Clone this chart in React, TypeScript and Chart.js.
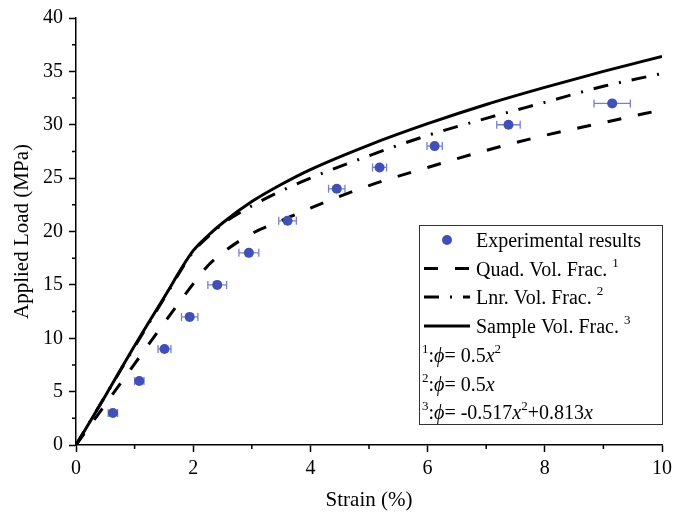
import { useEffect, useRef } from 'react';
import { Chart, registerables } from 'chart.js';

Chart.register(...registerables);

// ---- data ----
const curveStrain = [0, 0.5, 1, 1.5, 2, 2.25, 2.5, 3, 3.5, 4, 5, 6, 7, 8, 9, 10];
const quadLoad = [0, 3.8, 7.6, 11.4, 15.1, 16.8, 18.0, 19.8, 21.0, 22.2, 24.3, 26.0, 27.6, 29.0, 30.2, 31.4];
const linearLoad = [0, 4.6, 9.2, 13.7, 18.1, 19.5, 20.7, 22.4, 23.8, 25.0, 27.1, 29.0, 30.6, 32.1, 33.6, 34.8];
const sampleLoad = [0, 4.6, 9.3, 13.8, 18.2, 19.6, 20.8, 22.8, 24.4, 25.8, 28.1, 30.1, 31.9, 33.5, 35.0, 36.4];

const expStrain = [0.63, 1.08, 1.51, 1.94, 2.41, 2.95, 3.61, 4.45, 5.18, 6.12, 7.38, 9.15];
const expLoad = [3, 6, 9, 12, 15, 18, 21, 24, 26, 28, 30, 32];
const expStrainErr = [0.08, 0.08, 0.11, 0.14, 0.16, 0.17, 0.15, 0.14, 0.12, 0.13, 0.2, 0.31];

const xTickLabels = ['0', '2', '4', '6', '8', '10'];
const yTickLabels = ['0', '5', '10', '15', '20', '25', '30', '35', '40'];
const xMinorTicks = [1, 3, 5, 7, 9];
const yMinorTicks = [2.5, 7.5, 12.5, 17.5, 22.5, 27.5, 32.5, 37.5];

const seriesLabels = ['Experimental results', 'Quad. Vol. Frac.', 'Lnr. Vol. Frac.', 'Sample Vol. Frac.'];
const seriesNotes = ['', '1', '2', '3'];

const FONT = '"Liberation Serif", "Times New Roman", serif';
const PT_COLOR = '#4150b6';
const ERR_COLOR = '#7880cc';
const DASH_QUAD = [14, 17];
const DASH_LNR = [15, 11, 2, 11];

type Part = { t: string; italic?: boolean; sup?: boolean };

function drawRich(ctx: CanvasRenderingContext2D, x: number, baseline: number, parts: Part[]) {
  let cx = x;
  for (const p of parts) {
    const size = p.sup ? 13 : 20;
    ctx.font = `${p.italic ? 'italic ' : ''}${size}px ${FONT}`;
    ctx.fillText(p.t, cx, p.sup ? baseline - 9 : baseline);
    cx += ctx.measureText(p.t).width;
  }
}

const errorBarPlugin = {
  id: 'errorBars',
  beforeDatasetsDraw(chart: any) {
    const { ctx, scales } = chart;
    const xs = scales.x;
    const ys = scales.y;
    ctx.save();
    ctx.strokeStyle = ERR_COLOR;
    ctx.lineWidth = 1.3;
    expStrain.forEach((s, i) => {
      const e = expStrainErr[i];
      const x0 = xs.getPixelForValue(s - e);
      const x1 = xs.getPixelForValue(s + e);
      const py = ys.getPixelForValue(expLoad[i]);
      ctx.beginPath();
      ctx.moveTo(x0, py);
      ctx.lineTo(x1, py);
      ctx.moveTo(x0, py - 4);
      ctx.lineTo(x0, py + 4);
      ctx.moveTo(x1, py - 4);
      ctx.lineTo(x1, py + 4);
      ctx.stroke();
    });
    ctx.restore();
  },
};

const minorTickPlugin = {
  id: 'minorTicks',
  afterDraw(chart: any) {
    const { ctx, scales, chartArea } = chart;
    ctx.save();
    ctx.strokeStyle = '#000';
    ctx.lineWidth = 1.5;
    ctx.beginPath();
    xMinorTicks.forEach((v) => {
      const px = scales.x.getPixelForValue(v);
      ctx.moveTo(px, chartArea.bottom);
      ctx.lineTo(px, chartArea.bottom + 4);
    });
    yMinorTicks.forEach((v) => {
      const py = scales.y.getPixelForValue(v);
      ctx.moveTo(chartArea.left, py);
      ctx.lineTo(chartArea.left - 4, py);
    });
    ctx.stroke();
    ctx.restore();
  },
};

const legendPlugin = {
  id: 'customLegend',
  afterDraw(chart: any) {
    const { ctx, chartArea } = chart;
    const w = 243;
    const h = 199;
    const left = chartArea.right - w;
    const top = chartArea.top + 207;
    ctx.save();
    ctx.fillStyle = '#fff';
    ctx.fillRect(left, top, w, h);
    ctx.strokeStyle = '#333';
    ctx.lineWidth = 1;
    ctx.strokeRect(left + 0.5, top + 0.5, w, h);

    const rows = [15, 43.5, 72, 101, 130, 158.5, 187];
    const sx0 = left + 5;
    const sx1 = left + 51;
    const tx = left + 57;
    ctx.textBaseline = 'alphabetic';
    ctx.textAlign = 'left';

    // marker row
    ctx.fillStyle = PT_COLOR;
    ctx.beginPath();
    ctx.arc(left + 28, top + rows[0], 5, 0, Math.PI * 2);
    ctx.fill();

    const dashes = [null, DASH_QUAD, DASH_LNR, []];
    for (let i = 1; i < 4; i++) {
      const cy = top + rows[i];
      ctx.strokeStyle = '#000';
      ctx.lineWidth = 3;
      ctx.setLineDash(dashes[i] as number[]);
      ctx.beginPath();
      ctx.moveTo(sx0, cy);
      ctx.lineTo(sx1, cy);
      ctx.stroke();
    }
    ctx.setLineDash([]);
    ctx.fillStyle = '#000';
    seriesLabels.forEach((lab, i) => {
      const parts: Part[] = [{ t: lab }];
      if (seriesNotes[i]) parts.push({ t: ' ' }, { t: seriesNotes[i], sup: true });
      drawRich(ctx, tx, top + rows[i] + 7, parts);
    });

    const formulas: Part[][] = [
      [{ t: '1', sup: true }, { t: ':' }, { t: 'ϕ', italic: true }, { t: '= 0.5' }, { t: 'x', italic: true }, { t: '2', sup: true }],
      [{ t: '2', sup: true }, { t: ':' }, { t: 'ϕ', italic: true }, { t: '= 0.5' }, { t: 'x', italic: true }],
      [{ t: '3', sup: true }, { t: ':' }, { t: 'ϕ', italic: true }, { t: '= -0.517' }, { t: 'x', italic: true }, { t: '2', sup: true }, { t: '+0.813' }, { t: 'x', italic: true }],
    ];
    formulas.forEach((f, i) => drawRich(ctx, left + 3, top + rows[4 + i] + 7, f));
    ctx.restore();
  },
};

export default function App() {
  const ref = useRef<HTMLCanvasElement>(null);

  useEffect(() => {
    if (!ref.current) return;
    Chart.defaults.font.family = FONT;
    Chart.defaults.color = '#000';
    const toPts = (ys: number[]) => curveStrain.map((x, i) => ({ x, y: ys[i] }));
    const lineCommon = {
      showLine: true,
      borderColor: '#000',
      borderWidth: 3,
      pointRadius: 0,
      cubicInterpolationMode: 'monotone' as const,
      fill: false,
    };
    const chart = new Chart(ref.current, {
      type: 'scatter',
      data: {
        datasets: [
          {
            label: seriesLabels[0],
            data: expStrain.map((x, i) => ({ x, y: expLoad[i] })),
            pointRadius: 5,
            pointBackgroundColor: PT_COLOR,
            pointBorderColor: PT_COLOR,
            pointBorderWidth: 0,
            showLine: false,
          },
          { label: seriesLabels[1], data: toPts(quadLoad), borderDash: DASH_QUAD, ...lineCommon },
          { label: seriesLabels[2], data: toPts(linearLoad), borderDash: DASH_LNR, ...lineCommon },
          { label: seriesLabels[3], data: toPts(sampleLoad), ...lineCommon },
        ] as any,
      },
      options: {
        animation: false,
        responsive: false,
        layout: { padding: { top: 18, right: 12, left: 0, bottom: 0 } },
        plugins: { legend: { display: false }, tooltip: { enabled: false } },
        scales: {
          x: {
            type: 'linear',
            min: 0,
            max: 10,
            afterFit: (s: any) => {
              s.height = 72;
              s.paddingLeft = 0;
              s.paddingRight = 0;
            },
            ticks: {
              stepSize: 1,
              autoSkip: false,
              maxRotation: 0,
              padding: 5,
              color: '#000',
              font: { family: FONT, size: 20 },
              callback: (v: any) => {
                const n = Number(v);
                return n % 2 === 0 ? xTickLabels[n / 2] : '';
              },
            },
            grid: {
              drawOnChartArea: false,
              tickLength: 7,
              tickWidth: 1.5,
              tickColor: (c: any) => (c.tick && c.tick.value % 2 === 0 ? '#000' : 'rgba(0,0,0,0)'),
            },
            border: { color: '#000', width: 1.5 },
            title: {
              display: true,
              text: 'Strain (%)',
              color: '#000',
              font: { family: FONT, size: 21 },
              padding: { top: 0, bottom: 4 },
            },
          },
          y: {
            type: 'linear',
            min: 0,
            max: 40,
            afterFit: (s: any) => {
              s.width = 76;
              s.paddingTop = 0;
              s.paddingBottom = 0;
            },
            ticks: {
              stepSize: 2.5,
              autoSkip: false,
              padding: 6,
              color: '#000',
              font: { family: FONT, size: 20 },
              callback: (v: any) => {
                const n = Number(v);
                return n % 5 === 0 ? yTickLabels[n / 5] : '';
              },
            },
            grid: {
              drawOnChartArea: false,
              tickLength: 7,
              tickWidth: 1.5,
              tickColor: (c: any) => (c.tick && c.tick.value % 5 === 0 ? '#000' : 'rgba(0,0,0,0)'),
            },
            border: { color: '#000', width: 1.5 },
            title: {
              display: true,
              text: 'Applied Load (MPa)',
              color: '#000',
              font: { family: FONT, size: 21 },
              padding: { top: 10, bottom: 0 },
            },
          },
        },
      } as any,
      plugins: [errorBarPlugin, minorTickPlugin, legendPlugin],
    });
    return () => chart.destroy();
  }, []);

  return (
    <div style={{ position: 'fixed', left: 0, top: 0, width: 674, height: 517, background: '#fff' }}>
      <canvas ref={ref} width={674} height={517} style={{ display: 'block' }} />
    </div>
  );
}
